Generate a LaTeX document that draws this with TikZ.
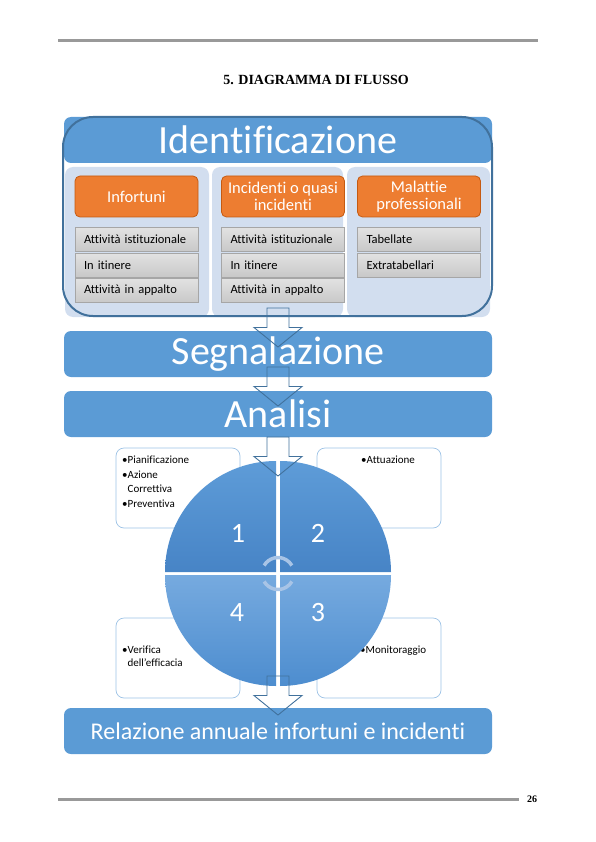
\documentclass[tikz,border=0pt]{standalone}
\usepackage{fontspec}
\setmainfont{Carlito}[Ligatures=NoCommon]
\newfontfamily\timesfont{Liberation Serif}
\usetikzlibrary{calc}

\definecolor{bannerblue}{HTML}{5B9BD5}
\definecolor{frameblue}{HTML}{41719C}
\definecolor{panelblue}{HTML}{D2DEEF}
\definecolor{orangefill}{HTML}{ED7D31}
\definecolor{orangeline}{HTML}{C55A11}
\definecolor{rowtop}{HTML}{E2E2E2}
\definecolor{rowbottom}{HTML}{C8C8C8}
\definecolor{rowline}{HTML}{A6A6A6}
\definecolor{noteline}{HTML}{9DC3E6}
\definecolor{cyclecol}{HTML}{A8C4E6}
\definecolor{rulegray}{HTML}{999999}

\tikzset{
    banner/.style={fill=bannerblue, rounded corners=7pt, minimum width=428pt,
        minimum height=46pt, inner sep=0pt, text=white,
        font=\fontsize{40}{44}\selectfont},
    idframe/.style={draw=frameblue, line width=2pt, rounded corners=30pt,
        minimum width=429pt, minimum height=199pt},
    panel/.style={fill=panelblue, rounded corners=8pt},
    orangebox/.style={draw=orangeline, fill=orangefill, line width=0.8pt,
        rounded corners=5pt, minimum width=123pt, minimum height=41pt,
        inner sep=0pt, text=white, align=center,
        font=\fontsize{16.5}{17.5}\selectfont},
    rowbox/.style={draw=rowline, line width=0.5pt, top color=rowtop,
        bottom color=rowbottom, minimum width=123pt, minimum height=24pt,
        inner sep=0pt, text width=105pt, align=left,
        font=\fontsize{12.5}{14}\selectfont},
    notebox/.style={draw=noteline, fill=white, line width=0.7pt,
        rounded corners=8pt, minimum width=124pt, minimum height=80pt},
    notetext/.style={anchor=base west, align=left, inner sep=0pt,
        font=\fontsize{11}{14.5}\selectfont},
    quadnum/.style={text=white, font=\fontsize{28}{30}\selectfont},
    hollowarrow/.style={draw=frameblue, line width=0.9pt, line join=miter},
    cyclearc/.style={draw=cyclecol, line width=3.5pt},
    pagerule/.style={draw=rulegray, line width=3pt},
}

\begin{document}
\begin{tikzpicture}[x=1pt,y=1pt]
    \useasboundingbox (0,0) rectangle (596,-842);

    % page head and title
    \draw[pagerule] (58,-41) -- (538,-41);
    \node[font=\timesfont\bfseries\fontsize{14}{16}\selectfont] (title)
        at (316,-79.5) {5. DIAGRAMMA DI FLUSSO};

    % identificazione
    \node[banner] (ident) at (278,-140) {Identificazione};
    \fill[panel] (65,-167) rectangle (209,-317);
    \fill[panel] (212,-167) rectangle (343,-317);
    \fill[panel] (347,-167) rectangle (490,-317);
    \node[idframe] (frame) at (277.5,-216.5) {};

    \node[orangebox] (inf) at (136.5,-196.5) {Infortuni};
    \node[orangebox] (inc) at (283,-196.5) {Incidenti o quasi\\incidenti};
    \node[orangebox] (mal) at (419,-196.5) {Malattie\\professionali};

    \foreach \cx/\col in {136.5/inf,283/inc}{
        \foreach \txt [count=\i] in {Attività istituzionale,In itinere,Attività in appalto}{
            \node[rowbox] (\col-\i) at (\cx,{-239.5-25.5*(\i-1)}) {\txt};
        }
    }
    \foreach \txt [count=\i] in {Tabellate,Extratabellari}{
        \node[rowbox] (mal-\i) at (419,{-239.5-25.5*(\i-1)}) {\txt};
    }

    % segnalazione, analisi
    \node[banner] (segn) at (278,-354) {Segnalazione};
    \node[banner] (anal) at (278,-414) {Analisi};

    % cycle
    \node[notebox] (plan) at (178,-488) {};
    \node[notebox] (attu) at (379,-488) {};
    \node[notebox] (veri) at (178,-658) {};
    \node[notebox] (moni) at (379,-658) {};

    % base of a multi-line note = its last line
    \node[notetext] (plan-t) at (122,-507)
        {•Pianificazione\\•Azione\\\phantom{•}Correttiva\\•Preventiva};
    \node[notetext] (attu-t) at (361,-463) {•Attuazione};
    \node[notetext,font=\fontsize{11}{13}\selectfont] (veri-t) at (122,-666)
        {•Verifica\\\phantom{•}dell’efficacia};
    \node[notetext] (moni-t) at (360,-653) {•Monitoraggio};

    \coordinate (cyc) at (278,-573.5);
    \foreach \dx/\dy/\a/\tc/\bc in {-2/1.5/90/5E9CD8/4784C6,2/1.5/0/5E9CD8/4784C6,
            -2/-1.5/180/76AADF/4D8DCF,2/-1.5/270/76AADF/4D8DCF}{
        \definecolor{qtop}{HTML}{\tc}
        \definecolor{qbot}{HTML}{\bc}
        \shade[top color=qtop,bottom color=qbot] ($(cyc)+(\dx,\dy)$)
            -- ++(\a:111) arc[start angle=\a,delta angle=90,radius=111] -- cycle;
    }

    \node[quadnum] (q1) at (238,-533.5) {1};
    \node[quadnum] (q2) at (318,-533.5) {2};
    \node[quadnum] (q3) at (318,-613) {3};
    \node[quadnum] (q4) at (237,-613) {4};

    \draw[cyclearc] ($(cyc)+(150:16)$) arc[start angle=150,end angle=30,radius=16];
    \draw[cyclearc] ($(cyc)+(210:16)$) arc[start angle=210,end angle=330,radius=16];

    % relazione
    \node[banner,font=\fontsize{24}{28}\selectfont] (rel) at (278,-731)
        {Relazione annuale infortuni e incidenti};

    % arrows
    \foreach \t in {308,367,437,676}{
        \draw[hollowarrow] (267,-\t) -- (289,-\t) -- (289,{-\t-19.5})
            -- (302,{-\t-19.5}) -- (278,{-\t-39}) -- (254,{-\t-19.5})
            -- (267,{-\t-19.5}) -- cycle;
    }

    % page foot
    \draw[pagerule] (58,-799) -- (519,-799);
    \node[font=\timesfont\bfseries\fontsize{10}{12}\selectfont] (pagenum)
        at (532,-799) {26};
\end{tikzpicture}
\end{document}
